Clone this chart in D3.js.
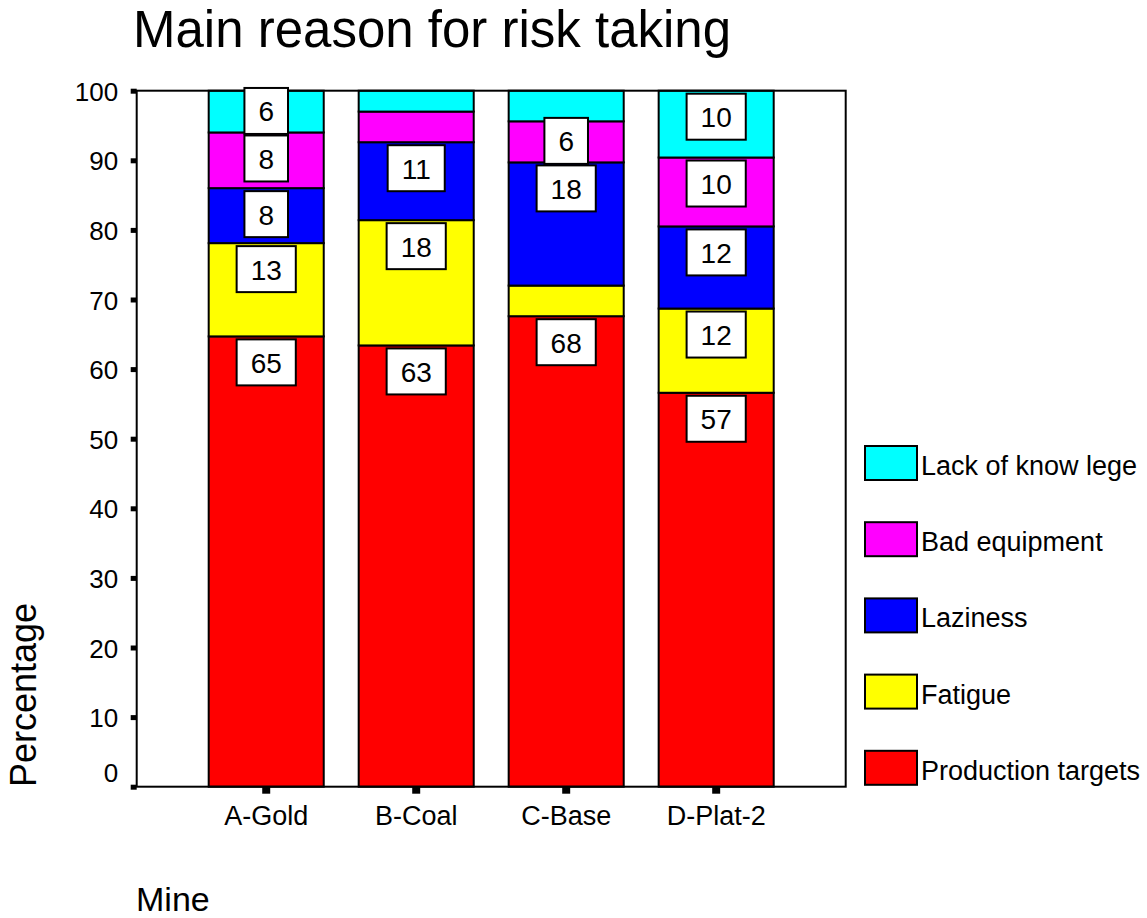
<!DOCTYPE html>
<html>
<head>
<meta charset="utf-8">
<script src="https://cdn.jsdelivr.net/npm/d3@7/dist/d3.min.js"></script>
<style>
  html, body { margin: 0; padding: 0; background: #fff; }
  svg { display: block; font-family: "Liberation Sans", Arial, sans-serif; }
</style>
</head>
<body>
<svg id="chart" width="1147" height="918"></svg>
<script>
// ---- data ----
const mines = ["A-Gold", "B-Coal", "C-Base", "D-Plat-2"];
const reasons = ["Production targets", "Fatigue", "Laziness", "Bad equipment", "Lack of know lege"];
const productionTargets = [64.7, 63.4, 67.6, 56.6];
const fatigue           = [13.4, 18.0, 4.4, 12.1];
const laziness          = [7.9, 11.2, 17.7, 11.8];
const badEquipment      = [8.0, 4.4, 5.9, 9.9];
const lackOfKnowledge   = [6.0, 3.0, 4.4, 9.6];
const yTicks = [0, 10, 20, 30, 40, 50, 60, 70, 80, 90, 100];
const colors = ["#ff0000", "#ffff00", "#0000ff", "#ff00ff", "#00ffff"];

const seriesValues = [productionTargets, fatigue, laziness, badEquipment, lackOfKnowledge];

// ---- layout ----
const svg = d3.select("#chart");
const plotLeft = 136.7, plotRight = 845.7, plotTop = 90.7, plotBottom = 786.7;

const x = d3.scaleBand().domain(mines).range([plotLeft, plotRight])
  .paddingInner(0.233).paddingOuter(0.48);
const y = d3.scaleLinear().domain([0, 100]).range([plotBottom, plotTop]);

// build stacked table
const table = mines.map((m, i) => {
  const row = { mine: m };
  reasons.forEach((r, k) => row[r] = seriesValues[k][i]);
  return row;
});
const stack = d3.stack().keys(reasons)(table);

// title
svg.append("text").attr("x", 133).attr("y", 47)
  .attr("font-size", 51).attr("fill", "#000").text("Main reason for risk taking");

// bars
const layers = svg.append("g").selectAll("g").data(stack).join("g")
  .attr("fill", (d, i) => colors[i]);
layers.selectAll("rect").data(d => d.map(p => ({ p, mine: p.data.mine }))).join("rect")
  .attr("x", d => x(d.mine))
  .attr("width", x.bandwidth())
  .attr("y", d => y(d.p[1]))
  .attr("height", d => y(d.p[0]) - y(d.p[1]))
  .attr("stroke", "#000").attr("stroke-width", 2);

// frame
svg.append("rect").attr("x", plotLeft).attr("y", plotTop)
  .attr("width", plotRight - plotLeft).attr("height", plotBottom - plotTop)
  .attr("fill", "none").attr("stroke", "#000").attr("stroke-width", 2);

// y axis
const yAxis = svg.append("g").attr("transform", `translate(${plotLeft},0)`)
  .call(d3.axisLeft(y).tickValues(yTicks).tickSize(6).tickFormat(d3.format("d")));
yAxis.select(".domain").remove();
yAxis.selectAll(".tick line").attr("stroke", "#000").attr("stroke-width", 5);
yAxis.selectAll(".tick text")
  .attr("x", -18.5).attr("dy", null)
  .attr("y", d => d === 0 ? -5 : 9.5)
  .attr("font-size", 26).attr("fill", "#000")
  .attr("font-family", "Liberation Sans, Arial, sans-serif");

// x axis
const xAxis = svg.append("g").attr("transform", `translate(0,${plotBottom})`)
  .call(d3.axisBottom(x).tickSize(7));
xAxis.select(".domain").remove();
xAxis.selectAll(".tick line").attr("stroke", "#000").attr("stroke-width", 8);
xAxis.selectAll(".tick text")
  .attr("y", 38.5).attr("dy", null)
  .attr("font-size", 27).attr("fill", "#000")
  .attr("font-family", "Liberation Sans, Arial, sans-serif");

// value labels (segments >= 5%)
const labelG = svg.append("g");
const boxH = 46;
mines.forEach((m, i) => {
  let prevTop = Infinity;
  stack.forEach((layer, k) => {
    const p = layer[i];
    const v = p[1] - p[0];
    if (v < 5) return;
    const txt = String(Math.round(v));
    let boxTop = y(p[1]) + 3;
    if (boxTop + boxH > prevTop - 1.5) boxTop = prevTop - 1.5 - boxH;
    prevTop = boxTop;
    const cx = x(m) + x.bandwidth() / 2;
    const g = labelG.append("g");
    const rect = g.append("rect");
    const t = g.append("text").attr("x", cx).attr("y", boxTop + 33.5)
      .attr("text-anchor", "middle").attr("font-size", 28).attr("fill", "#000").text(txt);
    const w = t.node().getComputedTextLength() + 28;
    rect.attr("x", cx - w / 2).attr("y", boxTop).attr("width", w).attr("height", boxH)
      .attr("fill", "#fff").attr("stroke", "#000").attr("stroke-width", 2);
  });
});

// axis titles
svg.append("text").attr("transform", "translate(36,695) rotate(-90)")
  .attr("text-anchor", "middle").attr("font-size", 36).attr("fill", "#000").text("Percentage");
svg.append("text").attr("x", 136).attr("y", 911)
  .attr("font-size", 34).attr("fill", "#000").text("Mine");

// legend (top to bottom: reverse order of stack)
const legendOrder = reasons.map((r, k) => ({ r, c: colors[k] })).reverse();
const leg = svg.append("g").selectAll("g").data(legendOrder).join("g")
  .attr("transform", (d, i) => `translate(865,${446 + i * 76.2})`);
leg.append("rect").attr("width", 52).attr("height", 34)
  .attr("fill", d => d.c).attr("stroke", "#000").attr("stroke-width", 2);
leg.append("text").attr("x", 56).attr("y", 29)
  .attr("font-size", 27).attr("fill", "#000").text(d => d.r);
</script>
</body>
</html>
